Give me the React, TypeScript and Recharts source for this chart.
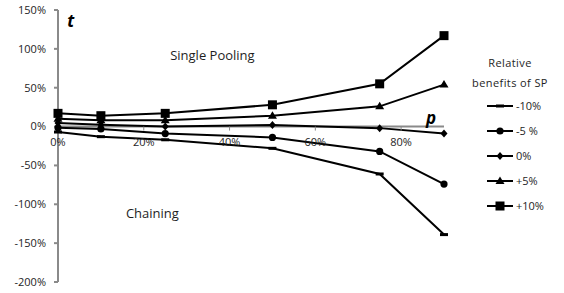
import React from "react";
import { LineChart, Line, XAxis, YAxis, ReferenceLine, ReferenceDot } from "recharts";

const pValues = [0, 0.1, 0.25, 0.5, 0.75, 0.9];
const minus10 = [-0.07, -0.13, -0.17, -0.28, -0.61, -1.39];
const minus5 = [-0.015, -0.03, -0.09, -0.14, -0.32, -0.74];
const zero = [0.045, 0.025, 0.0, 0.02, -0.02, -0.09];
const plus5 = [0.1, 0.08, 0.08, 0.14, 0.26, 0.54];
const plus10 = [0.17, 0.14, 0.17, 0.28, 0.55, 1.17];

const xTicks = [0, 0.2, 0.4, 0.6, 0.8];
const yTicks = [-2, -1.5, -1, -0.5, 0, 0.5, 1, 1.5];

type Shape = "dash" | "circle" | "diamond" | "triangle" | "square";

const series: { key: string; name: string; shape: Shape }[] = [
  { key: "m10", name: "-10%", shape: "dash" },
  { key: "m5", name: "-5 %", shape: "circle" },
  { key: "z", name: "0%", shape: "diamond" },
  { key: "p5", name: "+5%", shape: "triangle" },
  { key: "p10", name: "+10%", shape: "square" },
];

const data = pValues.map((p, i) => ({
  p,
  m10: minus10[i],
  m5: minus5[i],
  z: zero[i],
  p5: plus5[i],
  p10: plus10[i],
}));

const pct = (v: number) => `${Math.round(v * 100)}%`;
const AXIS = "#8a8a8a";
const TEXT = "#1e1e1e";
const FONT = "'Open Sans', sans-serif";

function Marker({ cx, cy, shape }: { cx: number; cy: number; shape: Shape }) {
  if (cx == null || cy == null) return null;
  switch (shape) {
    case "dash":
      return <rect x={cx - 4} y={cy - 1.5} width={8} height={3} fill="#000" />;
    case "circle":
      return <circle cx={cx} cy={cy} r={3.6} fill="#000" />;
    case "diamond":
      return <polygon points={`${cx},${cy - 4} ${cx + 3.5},${cy} ${cx},${cy + 4} ${cx - 3.5},${cy}`} fill="#000" />;
    case "triangle":
      return <polygon points={`${cx},${cy - 4.5} ${cx + 4.5},${cy + 3} ${cx - 4.5},${cy + 3}`} fill="#000" />;
    default:
      return <rect x={cx - 4.5} y={cy - 4.5} width={9} height={9} fill="#000" />;
  }
}

const note =
  (text: string, style: React.SVGProps<SVGTextElement>, dy = 0) =>
  ({ viewBox }: any) =>
    (
      <text
        x={viewBox.x + viewBox.width / 2}
        y={viewBox.y + viewBox.height / 2 + dy}
        textAnchor="middle"
        dominantBaseline="central"
        fontFamily={FONT}
        fill={TEXT}
        {...style}
      >
        {text}
      </text>
    );

// little tick mark hanging under the zero line
const tickMark = (show: boolean) => (props: any) =>
  show ? <line x1={props.cx} y1={props.cy} x2={props.cx} y2={props.cy + 4} stroke={AXIS} strokeWidth={1} /> : <g />;

function LegendBox() {
  return (
    <div style={{ position: "absolute", left: 462, top: 53, width: 96, fontFamily: FONT, fontSize: 11, color: TEXT }}>
      <div style={{ textAlign: "center", lineHeight: "20px", letterSpacing: 0.4 }}>Relative</div>
      <div style={{ textAlign: "center", lineHeight: "20px", letterSpacing: 0.4 }}>benefits of SP</div>
      {series.map((s) => (
        <div key={s.key} style={{ display: "flex", alignItems: "center", height: 25, paddingLeft: 25 }}>
          <svg width={26} height={12} style={{ marginRight: 3 }}>
            <line x1={0} y1={6} x2={26} y2={6} stroke="#000" strokeWidth={2} />
            <Marker cx={13} cy={6} shape={s.shape} />
          </svg>
          <span>{s.name}</span>
        </div>
      ))}
    </div>
  );
}

export default function App() {
  return (
    <div style={{ position: "relative", width: 564, height: 293 }}>
      <style>{`body{margin:0}`}</style>
      <LineChart
        width={564}
        height={293}
        data={data}
        margin={{ top: 10, right: 120, bottom: 11, left: 0 }}
        style={{ fontFamily: FONT }}
      >
        <XAxis type="number" dataKey="p" domain={[0, 0.9]} hide />
        <YAxis
          type="number"
          domain={[-2, 1.5]}
          ticks={yTicks}
          tickFormatter={pct}
          width={58}
          stroke={AXIS}
          strokeWidth={2}
          tickSize={4}
          tickMargin={8}
          tick={{ fill: TEXT, fontSize: 11 }}
        />
        <ReferenceLine y={0} stroke={AXIS} strokeWidth={2} />
        {xTicks.map((t) => (
          <ReferenceDot
            key={`tx${t}`}
            x={t}
            y={0}
            r={0}
            shape={tickMark(t > 0)}
            label={{ content: note(pct(t), { fontSize: 11 }, 15) }}
          />
        ))}
        <ReferenceDot x={0.36} y={0.92} r={0} fill="none" stroke="none" label={{ content: note("Single Pooling", { fontSize: 13 }) }} />
        <ReferenceDot x={0.22} y={-1.11} r={0} fill="none" stroke="none" label={{ content: note("Chaining", { fontSize: 13 }) }} />
        <ReferenceDot
          x={0.03}
          y={1.37}
          r={0}
          fill="none"
          stroke="none"
          label={{ content: note("t", { fontSize: 17, fontWeight: 700, fontStyle: "italic", fill: "#000" }) }}
        />
        <ReferenceDot
          x={0.87}
          y={0.12}
          r={0}
          fill="none"
          stroke="none"
          label={{ content: note("p", { fontSize: 17, fontWeight: 700, fontStyle: "italic", fill: "#000" }) }}
        />
        {series.map((s) => (
          <Line
            key={s.key}
            type="linear"
            dataKey={s.key}
            name={s.name}
            stroke="#000"
            strokeWidth={2}
            isAnimationActive={false}
            dot={(props: any) => <Marker key={`${s.key}-${props.index}`} cx={props.cx} cy={props.cy} shape={s.shape} />}
            activeDot={false}
          />
        ))}
      </LineChart>
      <LegendBox />
    </div>
  );
}
